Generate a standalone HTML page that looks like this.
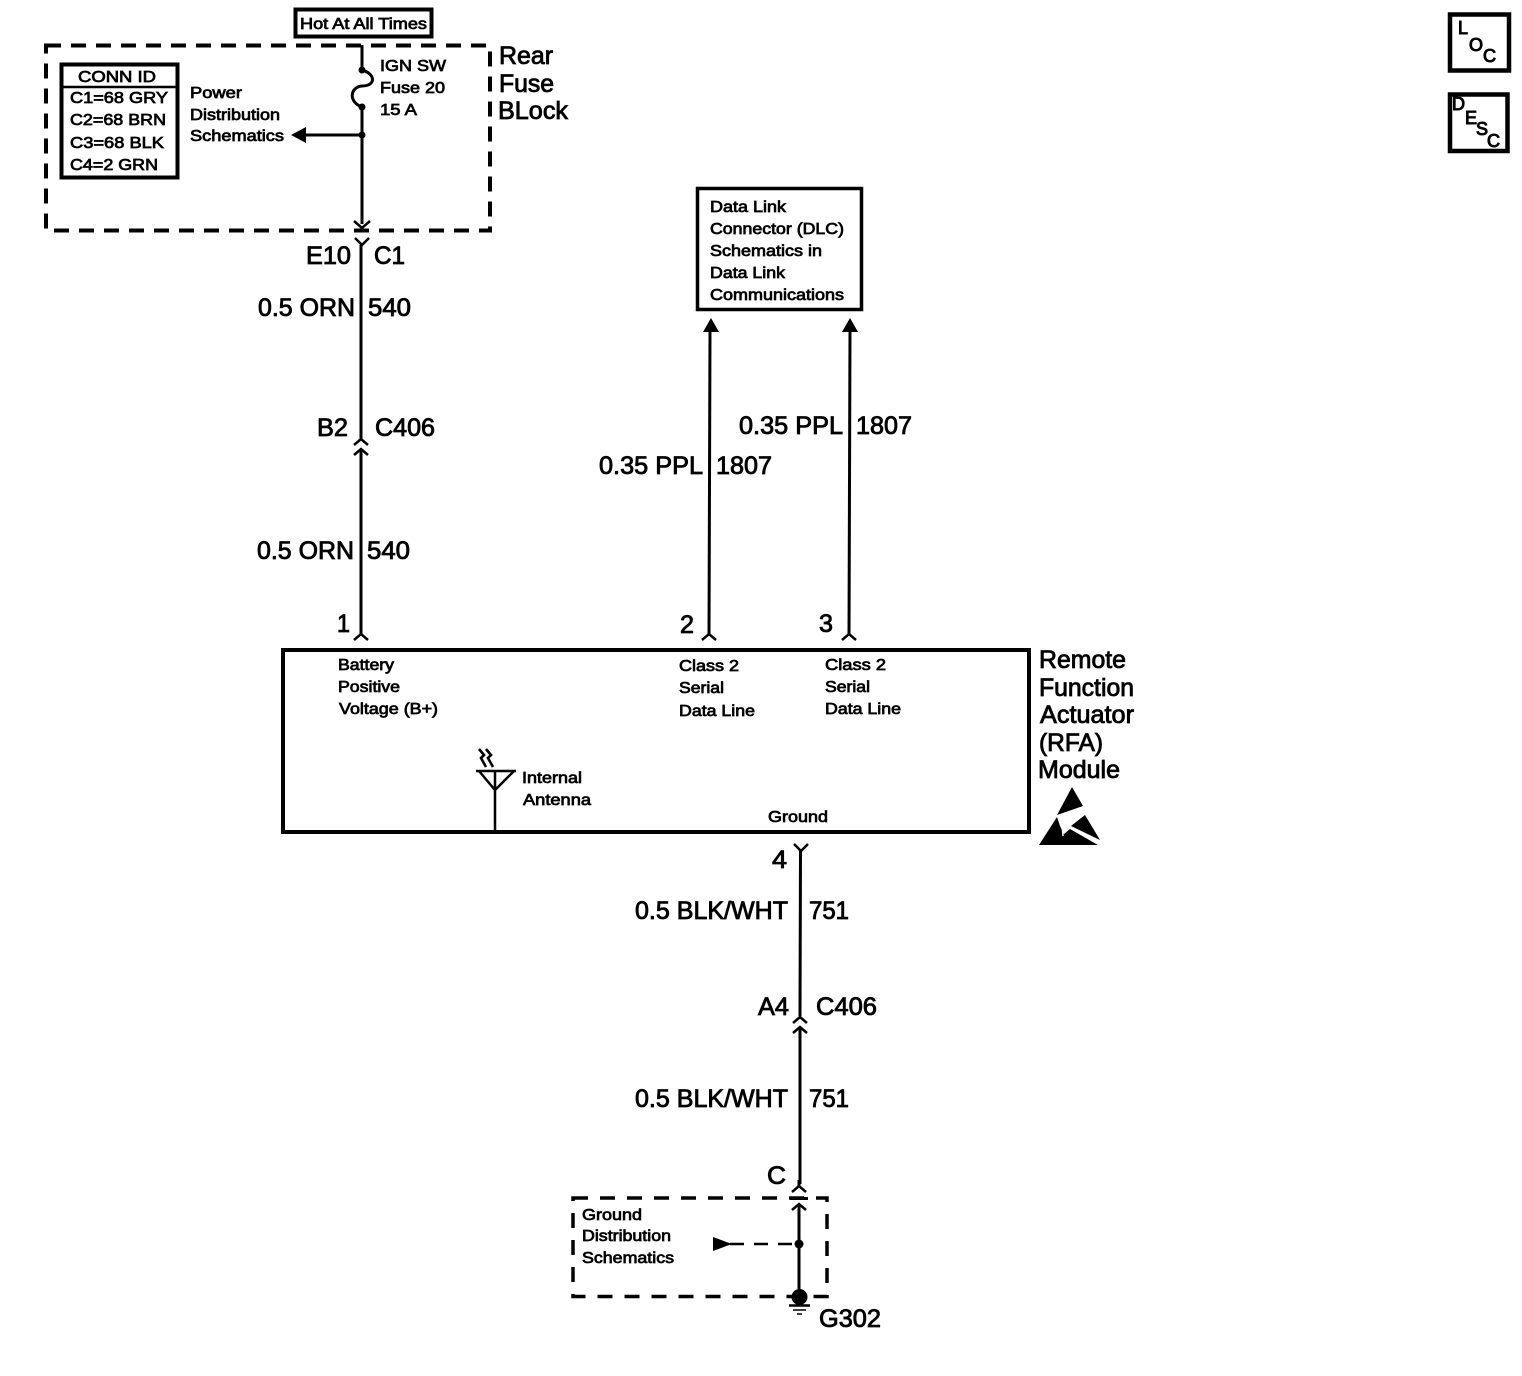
<!DOCTYPE html>
<html><head><meta charset="utf-8"><style>
html,body{margin:0;padding:0;background:#fff}
svg{display:block}
text{font-family:"Liberation Sans",sans-serif;fill:#000;stroke:#000}
.s{font-size:16px;stroke-width:.75}
.m{font-size:25px;stroke-width:.85}
.l{font-size:25px;stroke-width:.85}
.w{fill:none;stroke:#000;stroke-width:3}
.t{fill:none;stroke:#000;stroke-width:2.500}
.b{font-size:18px;stroke-width:1}
</style></head><body>
<svg width="1522" height="1376" viewBox="0 0 1522 1376" xmlns="http://www.w3.org/2000/svg">
<rect width="1522" height="1376" fill="#fff"/>

<!-- Hot at all times -->
<rect x="295.500" y="9.500" width="136" height="27" fill="none" stroke="#000" stroke-width="4"/>
<text class="s" x="300" y="29" textLength="127" lengthAdjust="spacingAndGlyphs">Hot At All Times</text>

<!-- Rear fuse block -->
<rect x="46" y="45.500" width="444" height="185" fill="none" stroke="#000" stroke-width="4" stroke-dasharray="15 10"/>
<text class="l" x="499" y="64" textLength="54" lengthAdjust="spacingAndGlyphs">Rear</text>
<text class="l" x="499" y="92" textLength="55" lengthAdjust="spacingAndGlyphs">Fuse</text>
<text class="l" x="498" y="119" textLength="70" lengthAdjust="spacingAndGlyphs">BLock</text>

<!-- Conn ID -->
<rect x="61.500" y="64.500" width="116" height="113" fill="none" stroke="#000" stroke-width="4"/>
<line x1="61" y1="87" x2="178" y2="87" stroke="#000" stroke-width="2.500"/>
<text class="s" x="78" y="82" textLength="78" lengthAdjust="spacingAndGlyphs">CONN ID</text>
<text class="s" x="70" y="103" textLength="98" lengthAdjust="spacingAndGlyphs">C1=68 GRY</text>
<text class="s" x="70" y="125" textLength="96" lengthAdjust="spacingAndGlyphs">C2=68 BRN</text>
<text class="s" x="70" y="148" textLength="94" lengthAdjust="spacingAndGlyphs">C3=68 BLK</text>
<text class="s" x="70" y="170" textLength="88" lengthAdjust="spacingAndGlyphs">C4=2 GRN</text>

<text class="s" x="190" y="98" textLength="52" lengthAdjust="spacingAndGlyphs">Power</text>
<text class="s" x="190" y="120" textLength="90" lengthAdjust="spacingAndGlyphs">Distribution</text>
<text class="s" x="190" y="141" textLength="94" lengthAdjust="spacingAndGlyphs">Schematics</text>

<text class="s" x="380" y="71" textLength="66" lengthAdjust="spacingAndGlyphs">IGN SW</text>
<text class="s" x="380" y="93" textLength="65" lengthAdjust="spacingAndGlyphs">Fuse 20</text>
<text class="s" x="380" y="115" textLength="37" lengthAdjust="spacingAndGlyphs">15 A</text>

<!-- Top wire + fuse -->
<line class="w" x1="362" y1="45" x2="362" y2="70"/>
<circle cx="362" cy="70" r="3.500"/>
<path class="w" d="M362 70 C376 74 376 86 362 86 C350 87 348 102 362 107"/>
<circle cx="362" cy="107" r="3.500"/>
<line class="w" x1="362" y1="107" x2="362" y2="224"/>
<circle cx="362" cy="135" r="3.500"/>
<line class="w" x1="305" y1="135" x2="362" y2="135"/>
<path d="M291 135 L306 127 L306 143 Z"/>
<path class="t" d="M354 221 L362 228 L370 221"/>

<!-- E10 C1 -->
<path class="t" d="M355 238 L362 245 L369 238"/>
<line class="w" x1="361" y1="245" x2="361" y2="422"/>
<text class="m" x="306" y="264" textLength="45" lengthAdjust="spacingAndGlyphs">E10</text>
<text class="m" x="374" y="264" textLength="31" lengthAdjust="spacingAndGlyphs">C1</text>
<text class="m" x="258" y="316" textLength="97" lengthAdjust="spacingAndGlyphs">0.5 ORN</text>
<text class="m" x="368" y="316" textLength="43" lengthAdjust="spacingAndGlyphs">540</text>

<!-- C406 top -->
<path class="t" d="M354 445 L361 439 L368 445"/>
<line class="w" x1="361" y1="418" x2="361" y2="440"/>
<text class="m" x="317" y="436" textLength="31" lengthAdjust="spacingAndGlyphs">B2</text>
<text class="m" x="375" y="436" textLength="60" lengthAdjust="spacingAndGlyphs">C406</text>
<path class="t" d="M354 455 L361 449 L368 455"/>
<line class="w" x1="361" y1="449" x2="361" y2="636"/>
<text class="m" x="257" y="559" textLength="97" lengthAdjust="spacingAndGlyphs">0.5 ORN</text>
<text class="m" x="367" y="559" textLength="43" lengthAdjust="spacingAndGlyphs">540</text>

<!-- pin 1 -->
<text class="m" x="337" y="632" textLength="13" lengthAdjust="spacingAndGlyphs">1</text>
<path class="t" d="M354 640 L361 634 L368 640"/>

<!-- DLC box -->
<rect x="697.500" y="188.500" width="164" height="121" fill="none" stroke="#000" stroke-width="3.500"/>
<text class="s" x="710" y="212" textLength="76" lengthAdjust="spacingAndGlyphs">Data Link</text>
<text class="s" x="710" y="234" textLength="134" lengthAdjust="spacingAndGlyphs">Connector (DLC)</text>
<text class="s" x="710" y="256" textLength="112" lengthAdjust="spacingAndGlyphs">Schematics in</text>
<text class="s" x="710" y="278" textLength="75" lengthAdjust="spacingAndGlyphs">Data Link</text>
<text class="s" x="710" y="300" textLength="134" lengthAdjust="spacingAndGlyphs">Communications</text>

<!-- Data wires -->
<path d="M703 332 L711 318 L719 332 Z"/>
<line class="w" x1="710" y1="330" x2="709" y2="636"/>
<path class="t" d="M702 640 L709 634 L716 640"/>
<path d="M842 332 L850 318 L858 332 Z"/>
<line class="w" x1="850" y1="330" x2="849" y2="636"/>
<path class="t" d="M842 640 L849 634 L856 640"/>
<text class="m" x="599" y="474" textLength="104" lengthAdjust="spacingAndGlyphs">0.35 PPL</text>
<text class="m" x="716" y="474" textLength="56" lengthAdjust="spacingAndGlyphs">1807</text>
<text class="m" x="739" y="434" textLength="104" lengthAdjust="spacingAndGlyphs">0.35 PPL</text>
<text class="m" x="856" y="434" textLength="56" lengthAdjust="spacingAndGlyphs">1807</text>
<text class="m" x="680" y="633" textLength="14" lengthAdjust="spacingAndGlyphs">2</text>
<text class="m" x="819" y="632" textLength="14" lengthAdjust="spacingAndGlyphs">3</text>

<!-- Module -->
<rect x="283" y="650" width="746" height="182" fill="none" stroke="#000" stroke-width="4"/>
<text class="s" x="338" y="670" textLength="56" lengthAdjust="spacingAndGlyphs">Battery</text>
<text class="s" x="338" y="692" textLength="62" lengthAdjust="spacingAndGlyphs">Positive</text>
<text class="s" x="339" y="714" textLength="99" lengthAdjust="spacingAndGlyphs">Voltage (B+)</text>
<text class="s" x="679" y="671" textLength="60" lengthAdjust="spacingAndGlyphs">Class 2</text>
<text class="s" x="679" y="693" textLength="45" lengthAdjust="spacingAndGlyphs">Serial</text>
<text class="s" x="679" y="716" textLength="76" lengthAdjust="spacingAndGlyphs">Data Line</text>
<text class="s" x="825" y="670" textLength="61" lengthAdjust="spacingAndGlyphs">Class 2</text>
<text class="s" x="825" y="692" textLength="45" lengthAdjust="spacingAndGlyphs">Serial</text>
<text class="s" x="825" y="714" textLength="76" lengthAdjust="spacingAndGlyphs">Data Line</text>
<text class="s" x="768" y="822" textLength="60" lengthAdjust="spacingAndGlyphs">Ground</text>
<text class="s" x="522" y="783" textLength="60" lengthAdjust="spacingAndGlyphs">Internal</text>
<text class="s" x="523" y="805" textLength="68" lengthAdjust="spacingAndGlyphs">Antenna</text>

<!-- Antenna -->
<path class="t" d="M476 771 L516 771 M479 771 L495 790 L514 771 M495 771 L495 830"/>
<path d="M479 749 L484 755 L481 758 L486 767 M486 749 L491 755 L488 758 L493 767" fill="none" stroke="#000" stroke-width="2.600"/>

<text class="l" x="1039" y="668" textLength="87" lengthAdjust="spacingAndGlyphs">Remote</text>
<text class="l" x="1039" y="696" textLength="95" lengthAdjust="spacingAndGlyphs">Function</text>
<text class="l" x="1040" y="723" textLength="94" lengthAdjust="spacingAndGlyphs">Actuator</text>
<text class="l" x="1039" y="751" textLength="64" lengthAdjust="spacingAndGlyphs">(RFA)</text>
<text class="l" x="1038" y="778" textLength="82" lengthAdjust="spacingAndGlyphs">Module</text>

<!-- ESD symbol -->
<path d="M1072 787 L1083 806 L1057 815 Z"/>
<path d="M1057 817 L1039 845 L1098 845 L1070 829 L1064 834 L1060 826 Z"/>
<path d="M1071 826 L1085 815 L1100 840 Z"/>
<path d="M1062 824 L1063 836" stroke="#fff" stroke-width="1.500" fill="none"/>

<!-- Pin 4 -->
<text class="m" x="772" y="868" textLength="15" lengthAdjust="spacingAndGlyphs">4</text>
<path class="t" d="M794 844 L801 851 L808 844"/>
<line class="w" x1="800.500" y1="851" x2="800" y2="1016"/>
<text class="m" x="635" y="919" textLength="153" lengthAdjust="spacingAndGlyphs">0.5 BLK/WHT</text>
<text class="m" x="809" y="919" textLength="40" lengthAdjust="spacingAndGlyphs">751</text>
<text class="m" x="758" y="1015" textLength="31" lengthAdjust="spacingAndGlyphs">A4</text>
<text class="m" x="816" y="1015" textLength="61" lengthAdjust="spacingAndGlyphs">C406</text>
<path class="t" d="M793 1023 L800 1017 L807 1023"/>
<path class="t" d="M793 1033 L800 1027 L807 1033"/>
<line class="w" x1="800" y1="1027" x2="800" y2="1184"/>
<text class="m" x="635" y="1107" textLength="153" lengthAdjust="spacingAndGlyphs">0.5 BLK/WHT</text>
<text class="m" x="809" y="1107" textLength="40" lengthAdjust="spacingAndGlyphs">751</text>
<text class="m" x="767" y="1184" textLength="19" lengthAdjust="spacingAndGlyphs">C</text>
<path class="t" d="M792 1192 L799 1186 L806 1192"/>
<line x1="799" y1="1180" x2="799" y2="1187" stroke="#000" stroke-width="3"/>

<!-- Ground dist -->
<rect x="573" y="1198" width="254" height="98.500" fill="none" stroke="#000" stroke-width="3.500" stroke-dasharray="15 12"/>
<line x1="790" y1="1198.500" x2="808" y2="1198.500" stroke="#000" stroke-width="3"/>
<path class="t" d="M792 1210 L799 1204 L806 1210"/>
<line class="w" x1="799" y1="1204" x2="799" y2="1295"/>
<circle cx="799" cy="1244" r="4.500"/>
<line x1="730" y1="1244" x2="796" y2="1244" stroke="#000" stroke-width="2.500" stroke-dasharray="14 10"/>
<path d="M713 1237 L713 1251 L732 1244 Z"/>
<text class="s" x="582" y="1220" textLength="60" lengthAdjust="spacingAndGlyphs">Ground</text>
<text class="s" x="582" y="1241" textLength="89" lengthAdjust="spacingAndGlyphs">Distribution</text>
<text class="s" x="582" y="1263" textLength="92" lengthAdjust="spacingAndGlyphs">Schematics</text>
<circle cx="799.500" cy="1297" r="8"/>
<line x1="789" y1="1305.500" x2="810" y2="1305.500" stroke="#000" stroke-width="2.500"/>
<line x1="793" y1="1310" x2="806" y2="1310" stroke="#000" stroke-width="1.500"/>
<line x1="797" y1="1314" x2="802" y2="1314" stroke="#000" stroke-width="1.500"/>
<text class="m" x="819" y="1327" textLength="62" lengthAdjust="spacingAndGlyphs">G302</text>

<!-- LOC / DESC -->
<rect x="1450" y="14.500" width="59" height="56" fill="none" stroke="#000" stroke-width="4.500"/>
<text class="b" x="1458" y="34">L</text>
<text class="b" x="1469" y="51">O</text>
<text class="b" x="1483" y="62">C</text>
<rect x="1450" y="94.500" width="57.500" height="56.500" fill="none" stroke="#000" stroke-width="4.500"/>
<text class="b" x="1452" y="110">D</text>
<text class="b" x="1465" y="124">E</text>
<text class="b" x="1476" y="135">S</text>
<text class="b" x="1487" y="147">C</text>
</svg>
</body></html>
